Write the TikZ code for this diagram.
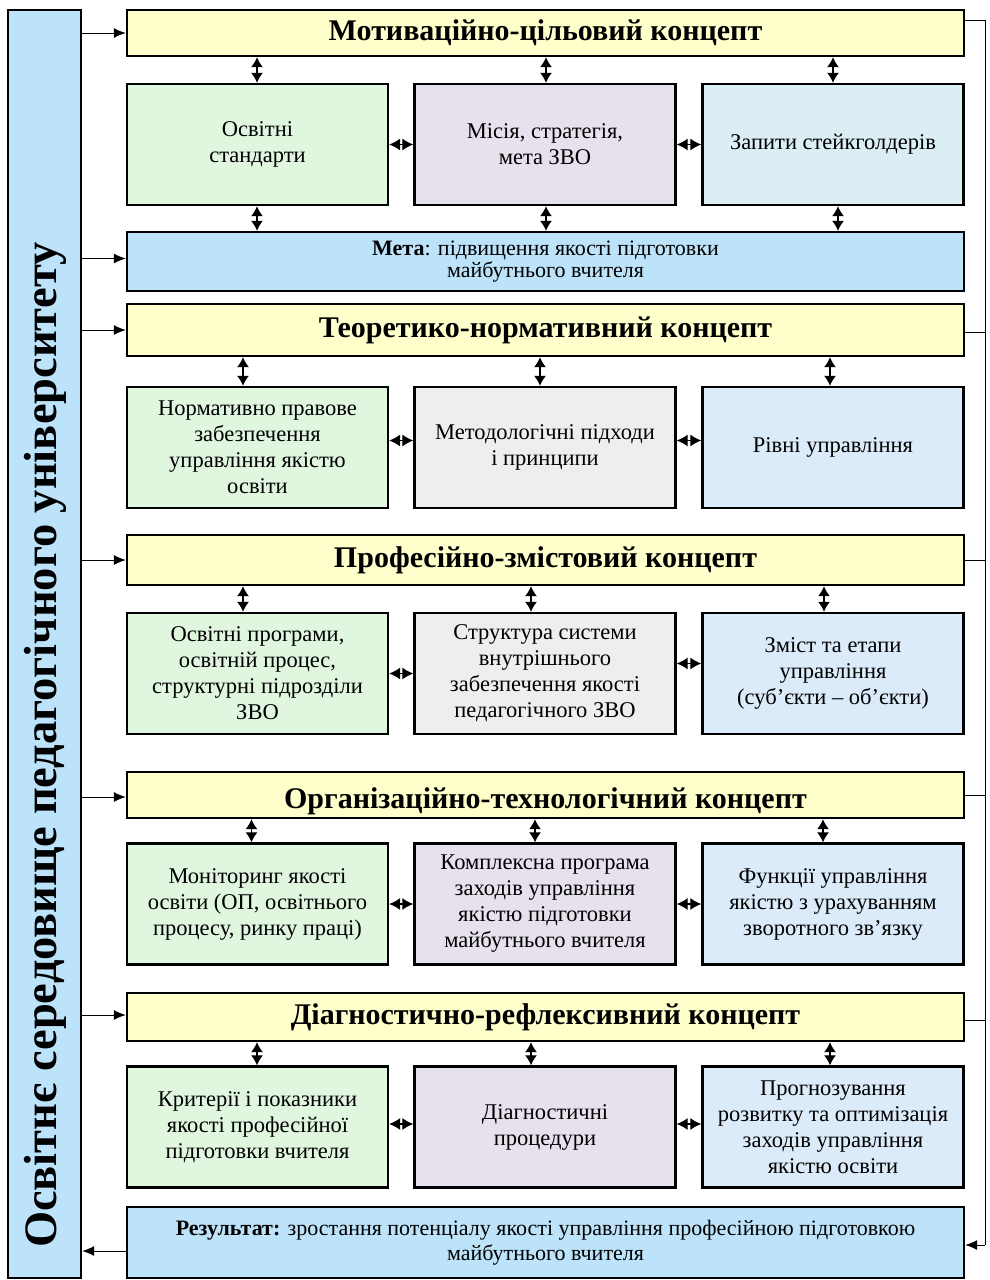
\documentclass[tikz,border=0pt]{standalone}
\usepackage{fontspec}
\setmainfont{Liberation Serif}
\usetikzlibrary{arrows.meta}
\definecolor{yellowc}{HTML}{FFFFCC}
\definecolor{bluec}{HTML}{BDE3FA}
\definecolor{greenc}{HTML}{E0F6DF}
\definecolor{lavc}{HTML}{E6E1EC}
\definecolor{cyanc}{HTML}{DAEEF3}
\definecolor{lbluec}{HTML}{DCEBFA}
\definecolor{greyc}{HTML}{EEEEEE}
\tikzset{
  box/.style={draw=black, line width=2.4pt, rectangle, align=center, inner sep=0pt,
    font=\fontsize{22.5}{26}\selectfont},
  concept/.style={box, fill=yellowc, minimum width=837pt, font=\fontsize{30}{32}\selectfont\bfseries},
  cell/.style={box, minimum width=261pt, minimum height=121pt},
  wide/.style={box, fill=bluec, minimum width=837pt},
  dar/.style={line width=1.2pt, {Latex[length=10pt,width=12pt]}-{Latex[length=10pt,width=12pt]}},
  har/.style={line width=1.2pt, {Latex[length=11pt,width=12pt]}-{Latex[length=11pt,width=12pt]}},
  sar/.style={line width=1pt, -{Latex[length=12pt,width=10pt]}},
  thin/.style={line width=1pt}
}
\begin{document}
\begin{tikzpicture}[x=1pt,y=-1pt]
\useasboundingbox (0,0) rectangle (989,1280);
% left bar
\node[box, fill=bluec, minimum width=73pt, minimum height=1268pt] (bar) at (44.5,644) {};
\node[rotate=90, font=\fontsize{46.5}{48}\selectfont\bfseries] (bartext) at (45,745) {Освітнє середовище педагогічного університету};
% concepts
\node[concept, minimum height=46pt] (c1) at (545.5,33) {Мотиваційно-цільовий концепт};
\node[concept, minimum height=52pt] (c2) at (545.5,330) {Теоретико-нормативний концепт};
\node[concept, minimum height=50pt] (c3) at (545.5,560) {Професійно-змістовий концепт};
\node[concept, minimum height=46pt, text height=26pt, text depth=0pt] (c4) at (545.5,795) {Організаційно-технологічний концепт};
\node[concept, minimum height=48pt] (c5) at (545.5,1017) {Діагностично-рефлексивний концепт};
% row 1
\node[cell, fill=greenc] (r11) at (257.5,144.5) {Освітні\\стандарти};
\node[cell, fill=lavc] (r12) at (545,144.5) {Місія, стратегія,\\мета ЗВО};
\node[cell, fill=cyanc] (r13) at (833,144.5) {Запити стейкголдерів};
\node[wide, minimum height=59pt, font=\fontsize{22}{22}\selectfont] (meta) at (545.5,261.5) {\textbf{Мета}: підвищення якості підготовки\\майбутнього вчителя};
% row 2
\node[cell, fill=greenc] (r21) at (257.5,447.5) {Нормативно правове\\забезпечення\\управління якістю\\освіти};
\node[cell, fill=greyc] (r22) at (545,447.5) {Методологічні підходи\\і принципи};
\node[cell, fill=lbluec] (r23) at (833,447.5) {Рівні управління};
% row 3
\node[cell, fill=greenc] (r31) at (257.5,673.5) {Освітні програми,\\освітній процес,\\структурні підрозділи\\ЗВО};
\node[cell, fill=greyc] (r32) at (545,673.5) {Структура системи\\внутрішнього\\забезпечення якості\\педагогічного ЗВО};
\node[cell, fill=lbluec] (r33) at (833,673.5) {Зміст та етапи\\управління\\(суб’єкти – об’єкти)};
% row 4
\node[cell, fill=greenc] (r41) at (257.5,904) {Моніторинг якості\\освіти (ОП, освітнього\\процесу, ринку праці)};
\node[cell, fill=lavc] (r42) at (545,904) {Комплексна програма\\заходів управління\\якістю підготовки\\майбутнього вчителя};
\node[cell, fill=lbluec] (r43) at (833,904) {Функції управління\\якістю з урахуванням\\зворотного зв’язку};
% row 5
\node[cell, fill=greenc] (r51) at (257.5,1127) {Критерії і показники\\якості професійної\\підготовки вчителя};
\node[cell, fill=lavc] (r52) at (545,1127) {Діагностичні\\процедури};
\node[cell, fill=lbluec] (r53) at (833,1127) {Прогнозування\\розвитку та оптимізація\\заходів управління\\якістю освіти};
% result
\node[wide, minimum height=71pt, font=\fontsize{22}{25}\selectfont] (res) at (545.5,1242.5) {\textbf{Результат:} зростання потенціалу якості управління професійною підготовкою\\майбутнього вчителя};

% vertical double arrows
\draw[dar] ([xshift=-0.5pt]r11.north |- c1.south) -- ([xshift=-0.5pt]r11.north);
\draw[dar] ([xshift=1pt]r12.north |- c1.south) -- ([xshift=1pt]r12.north);
\draw[dar] (r13.north |- c1.south) -- (r13.north);
\draw[dar] ([xshift=-0.5pt]r11.south) -- ([xshift=-0.5pt]r11.south |- meta.north);
\draw[dar] ([xshift=1pt]r12.south) -- ([xshift=1pt]r12.south |- meta.north);
\draw[dar] ([xshift=5pt]r13.south) -- ([xshift=5pt]r13.south |- meta.north);

\draw[dar] ([xshift=-14.5pt]r21.north |- c2.south) -- ([xshift=-14.5pt]r21.north);
\draw[dar] ([xshift=-5pt]r22.north |- c2.south) -- ([xshift=-5pt]r22.north);
\draw[dar] ([xshift=-3pt]r23.north |- c2.south) -- ([xshift=-3pt]r23.north);

\draw[dar] ([xshift=-14.5pt]r31.north |- c3.south) -- ([xshift=-14.5pt]r31.north);
\draw[dar] ([xshift=-14pt]r32.north |- c3.south) -- ([xshift=-14pt]r32.north);
\draw[dar] ([xshift=-9pt]r33.north |- c3.south) -- ([xshift=-9pt]r33.north);

\draw[dar] ([xshift=-6pt]r41.north |- c4.south) -- ([xshift=-6pt]r41.north);
\draw[dar] ([xshift=-10pt]r42.north |- c4.south) -- ([xshift=-10pt]r42.north);
\draw[dar] ([xshift=-10pt]r43.north |- c4.south) -- ([xshift=-10pt]r43.north);

\draw[dar] ([xshift=-0.5pt]r51.north |- c5.south) -- ([xshift=-0.5pt]r51.north);
\draw[dar] ([xshift=-14pt]r52.north |- c5.south) -- ([xshift=-14pt]r52.north);
\draw[dar] ([xshift=-3pt]r53.north |- c5.south) -- ([xshift=-3pt]r53.north);

% horizontal double arrows
\draw[har] (r11.east) -- (r12.west);
\draw[har] (r12.east) -- (r13.west);
\draw[har] ([yshift=7pt]r21.east) -- ([yshift=7pt]r22.west);
\draw[har] ([yshift=7pt]r22.east) -- ([yshift=7pt]r23.west);
\draw[har] (r31.east) -- (r32.west);
\draw[har] ([yshift=10pt]r32.east) -- ([yshift=10pt]r33.west);
\draw[har] (r41.east) -- (r42.west);
\draw[har] (r42.east) -- (r43.west);
\draw[har] ([yshift=3pt]r51.east) -- ([yshift=3pt]r52.west);
\draw[har] ([yshift=3pt]r52.east) -- ([yshift=3pt]r53.west);

% arrows from left bar
\draw[sar] (bar.east |- c1.west) -- (c1.west);
\draw[sar] ([yshift=3pt]bar.east |- meta.west) -- ([yshift=3pt]meta.west);
\draw[sar] (bar.east |- c2.west) -- (c2.west);
\draw[sar] (bar.east |- c3.west) -- (c3.west);
\draw[sar] ([yshift=-2pt]bar.east |- c4.west) -- ([yshift=-2pt]c4.west);
\draw[sar] ([yshift=2pt]c5.west -| bar.east) -- ([yshift=2pt]c5.west);
\draw[sar] ([yshift=-8.5pt]res.west) -- ([yshift=-8.5pt]res.west -| bar.east);

% right feedback line
\coordinate (rt) at (985,20);
\coordinate (rb) at (985,1245);
\draw[thin] ([yshift=13pt]c1.east) -- (rt) -- (rb);
\draw[sar] (rb) -- (rb -| res.east);
\draw[thin] ([yshift=-2pt]c2.east) -- ([yshift=-2pt]c2.east -| rt);
\draw[thin] (c3.east) -- (c3.east -| rt);
\draw[thin] (c4.east) -- (c4.east -| rt);
\draw[thin] ([yshift=-3pt]c5.east) -- ([yshift=-3pt]c5.east -| rt);
\end{tikzpicture}
\end{document}
